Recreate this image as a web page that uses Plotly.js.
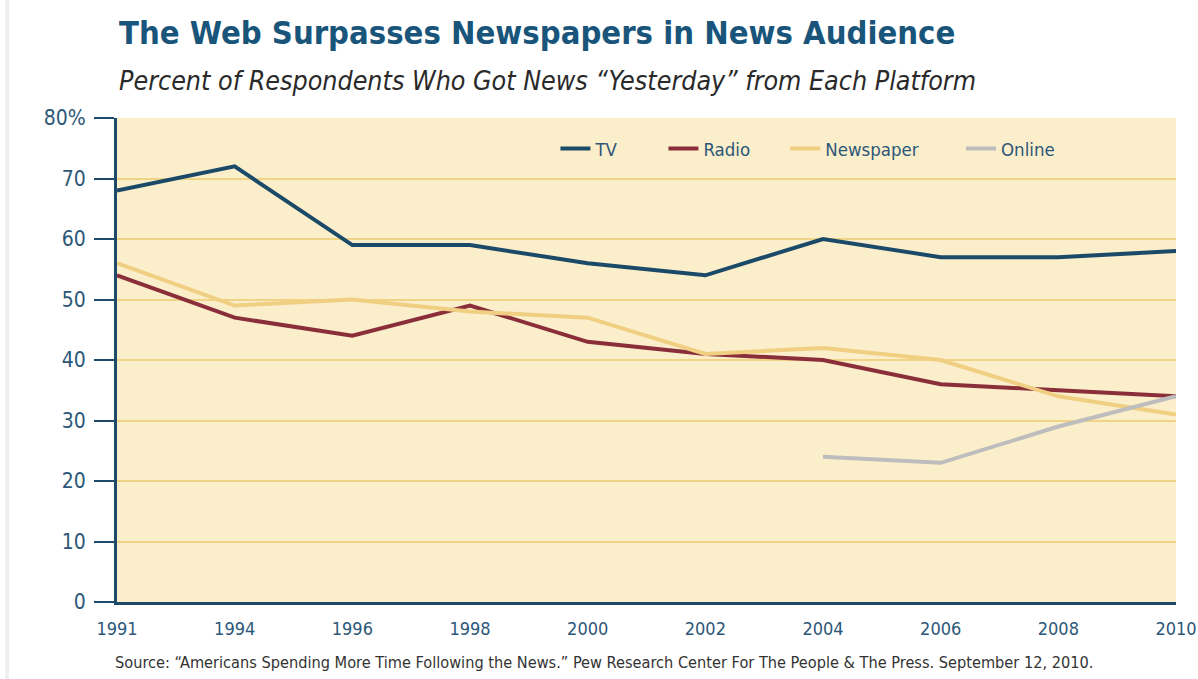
<!DOCTYPE html>
<html>
<head>
<meta charset="utf-8">
<script src="https://cdn.plot.ly/plotly-3.0.1.min.js"></script>
<style>html,body{margin:0;padding:0;background:#fff;}#chart{width:1198px;height:679px;}</style>
</head>
<body>
<div id="chart"></div>
<script>
const years = ["1991","1994","1996","1998","2000","2002","2004","2006","2008","2010"];
const tv = [68, 72, 59, 59, 56, 54, 60, 57, 57, 58];
const radio = [54, 47, 44, 49, 43, 41, 40, 36, 35, 34];
const newspaper = [56, 49, 50, 48, 47, 41, 42, 40, 34, 31];
const online = [null, null, null, null, null, null, 24, 23, 29, 34];
const yTickVals = [0, 10, 20, 30, 40, 50, 60, 70, 80];
const yTickText = ["0", "10", "20", "30", "40", "50", "60", "70", "80%"];

const FONT = "'DejaVu Sans Condensed', 'Liberation Sans Narrow', Arial, sans-serif";
const AXIS = "#1d4a68";
const LABEL = "#2d5778";

function tr(name, y, color, leg) {
  return {x: years, y: y, name: name, type: 'scatter', mode: 'lines', legend: leg,
          line: {color: color, width: 4}, connectgaps: false, hoverinfo: 'skip'};
}
const data = [
  tr("TV", tv, "#1b4a69", 'legend'),
  tr("Radio", radio, "#8a2f3a", 'legend2'),
  tr("Newspaper", newspaper, "#f0cf82", 'legend3'),
  tr("Online", online, "#bdbdbd", 'legend4')
];
function leg(x) {
  return {orientation: 'h', x: x, y: 0.936, xanchor: 'left', yanchor: 'middle',
          bgcolor: 'rgba(0,0,0,0)', font: {size: 18.5, color: LABEL, family: FONT}};
}
const layout = {
  width: 1198, height: 679,
  margin: {l: 117, r: 22, t: 118, b: 77},
  paper_bgcolor: "#ffffff",
  plot_bgcolor: "#fbeecb",
  font: {family: FONT, color: LABEL},
  showlegend: true,
  legend: leg(0.414),
  legend2: leg(0.516),
  legend3: leg(0.631),
  legend4: leg(0.797),
  xaxis: {type: 'category', range: [0, 9], showgrid: false, zeroline: false,
          showline: true, linecolor: AXIS, linewidth: 2.5, ticks: '',
          tickfont: {size: 18, color: LABEL, family: FONT}, ticklabelstandoff: 9, fixedrange: true},
  yaxis: {range: [0, 80], tickvals: yTickVals, ticktext: yTickText,
          showgrid: true, gridcolor: "#f1d386", gridwidth: 2, zeroline: false,
          showline: true, linecolor: AXIS, linewidth: 3,
          ticks: 'outside', ticklen: 20, tickwidth: 2, tickcolor: AXIS,
          tickfont: {size: 21, color: LABEL, family: FONT}, ticklabelstandoff: 4, fixedrange: true},
  annotations: [
    {xref: 'paper', yref: 'paper', x: 0, y: 1.176, xanchor: 'left', yanchor: 'middle', showarrow: false,
     text: "<b>The Web Surpasses Newspapers in News Audience</b>",
     font: {size: 32.5, color: "#19557a", family: FONT}},
    {xref: 'paper', yref: 'paper', x: 0, y: 1.0785, xanchor: 'left', yanchor: 'middle', showarrow: false,
     text: "<i>Percent of Respondents Who Got News “Yesterday” from Each Platform</i>",
     font: {size: 26.6, color: "#2a2a2a", family: FONT}},
    {xref: 'paper', yref: 'paper', x: -0.004, y: -0.126, xanchor: 'left', yanchor: 'middle', showarrow: false,
     text: "Source: “Americans Spending More Time Following the News.” Pew Research Center For The People &amp; The Press. September 12, 2010.",
     font: {size: 16.2, color: "#333333", family: FONT}}
  ],
  shapes: [
    {type: 'rect', xref: 'paper', yref: 'paper', x0: -0.1055, x1: -0.102, y0: -0.16, y1: 1.25,
     fillcolor: '#eeeeee', line: {width: 0}, layer: 'below'}
  ]
};
Plotly.newPlot('chart', data, layout, {displayModeBar: false, staticPlot: true});
</script>
</body>
</html>
